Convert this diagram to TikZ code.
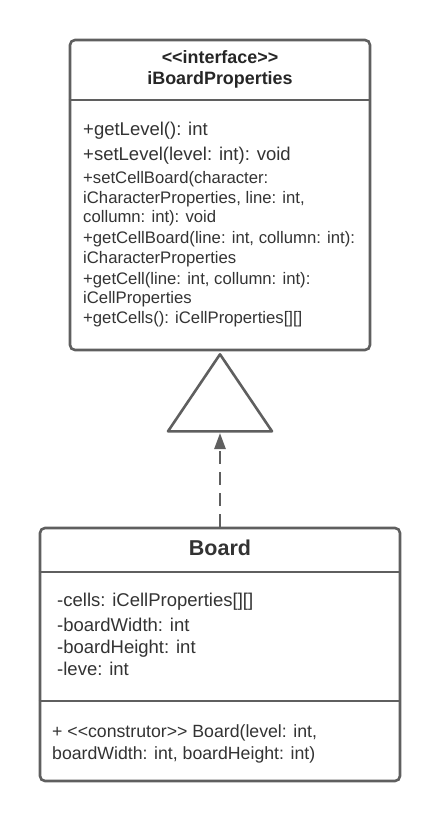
\documentclass[tikz,border=0pt]{standalone}
\usepackage{fontspec}
\setmainfont{Liberation Sans}
\usetikzlibrary{arrows.meta}
\definecolor{linegray}{HTML}{5F5F5F}
\definecolor{textgray}{HTML}{333333}
\newcommand{\llt}{\textless\kern0pt\textless}
\newcommand{\ggt}{\textgreater\kern0pt\textgreater}
\tikzset{
  umlbox/.style={draw=linegray, line width=2.6pt, rounded corners=5pt, fill=white, inner sep=0pt},
  sepline/.style={draw=linegray, line width=2.6pt},
  txtS/.style={anchor=base west, inner sep=0pt, text=textgray, font=\fontsize{16.7}{20}\selectfont},
  txtL/.style={anchor=base west, inner sep=0pt, text=textgray, font=\fontsize{18.5}{22}\selectfont},
  txtM/.style={anchor=base west, inner sep=0pt, text=textgray, font=\fontsize{17.7}{21}\selectfont},
  ttl/.style={anchor=base, inner sep=0pt, text=black!85, font=\bfseries\fontsize{17.9}{21}\selectfont},
  ttlB/.style={anchor=base, inner sep=0pt, text=textgray, font=\bfseries\fontsize{21.5}{25}\selectfont},
}
\begin{document}
\begin{tikzpicture}[x=1pt,y=-1pt]
\useasboundingbox (0,0) rectangle (440,822);
% interface box
\node[umlbox, minimum width=300pt, minimum height=310pt] (iface) at (220,195) {};
\draw[sepline] (iface.west |- 0,100) -- (iface.east |- 0,100);
\node[ttl] (st) at (220,63.5) {\llt interface\ggt};
\node[ttl] (nm) at (220,84.5) {iBoardProperties};
\node[txtL] (m1) at (83,135.5) {+getLevel(): int};
\node[txtL] (m2) at (83,160.5) {+setLevel(level: int): void};
\node[txtS] (m3) at (83,183) {+setCellBoard(character:};
\node[txtS] (m4) at (83,203) {iCharacterProperties, line: int,};
\node[txtS] (m5) at (83,222) {collumn: int): void};
\node[txtS] (m6) at (83,243) {+getCellBoard(line: int, collumn: int):};
\node[txtS] (m7) at (83,263) {iCharacterProperties};
\node[txtS] (m8) at (83,284) {+getCell(line: int, collumn: int):};
\node[txtS] (m9) at (83,303) {iCellProperties};
\node[txtS] (m10) at (83,323) {+getCells(): iCellProperties[][]};
% realization triangle
\draw[draw=linegray, line width=2.6pt, line join=round, fill=white]
  ([yshift=-3pt]iface.south) -- ++(52,77) -- ++(-104,0) -- cycle;
\coordinate (tip) at (220,433);
% Board box
\node[umlbox, minimum width=360pt, minimum height=253pt] (board) at (220,654.5) {};
\draw[sepline] (board.west |- 0,572) -- (board.east |- 0,572);
\draw[sepline] (board.west |- 0,701) -- (board.east |- 0,701);
\node[ttlB] (bt) at (220,555) {Board};
\node[txtL] (a1) at (57,606.5) {-cells: iCellProperties[][]};
\node[txtL] (a2) at (57,631) {-boardWidth: int};
\node[txtL] (a3) at (57,653.5) {-boardHeight: int};
\node[txtL] (a4) at (57,675.5) {-leve: int};
\node[txtM] (c1) at (52,737) {+ \llt construtor\ggt{} Board(level: int,};
\node[txtM] (c2) at (52,759) {boardWidth: int, boardHeight: int)};
% dashed realization connector
\draw[draw=linegray, line width=2.6pt, dash pattern=on 13pt off 8pt,
  -{Triangle[length=16pt,width=11pt,fill=linegray]}] (board.north) -- (tip);
\end{tikzpicture}
\end{document}
